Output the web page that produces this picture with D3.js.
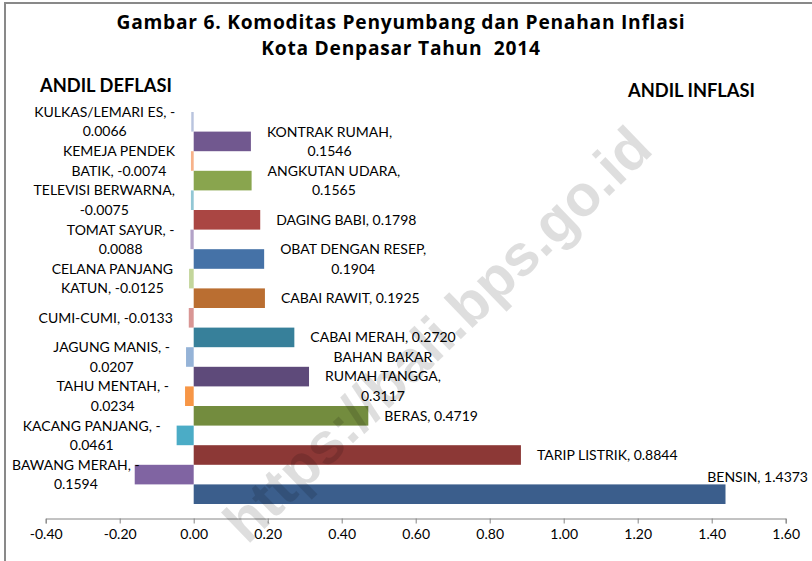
<!DOCTYPE html>
<html>
<head>
<meta charset="utf-8">
<script src="https://cdn.jsdelivr.net/npm/d3@7"></script>
<style>
  body { margin: 0; background: #fff; }
  svg { display: block; }
</style>
</head>
<body>
<div id="chart"></div>
<script>
// data
const deflNames = ["KULKAS/LEMARI ES", "KEMEJA PENDEK BATIK", "TELEVISI BERWARNA", "TOMAT SAYUR",
	"CELANA PANJANG KATUN", "CUMI-CUMI", "JAGUNG MANIS", "TAHU MENTAH", "KACANG PANJANG", "BAWANG MERAH"];
const deflValues = [-0.0066, -0.0074, -0.0075, -0.0088, -0.0125, -0.0133, -0.0207, -0.0234, -0.0461, -0.1594];
const deflColors = ["#b9c4de", "#f7b28a", "#92c7d5", "#b3a2c7", "#c3d69b", "#d99694", "#95b3d7", "#f79646", "#4bacc6", "#8064a2"];

const inflNames = ["KONTRAK RUMAH", "ANGKUTAN UDARA", "DAGING BABI", "OBAT DENGAN RESEP", "CABAI RAWIT",
	"CABAI MERAH", "BAHAN BAKAR RUMAH TANGGA", "BERAS", "TARIP LISTRIK", "BENSIN"];
const inflValues = [0.1546, 0.1565, 0.1798, 0.1904, 0.1925, 0.2720, 0.3117, 0.4719, 0.8844, 1.4373];
const inflColors = ["#71588f", "#89a54e", "#aa4643", "#4572a7", "#ba6e31", "#37809a", "#5e4a7a", "#738c3e", "#8c3836", "#3b5e8c"];

const xTicks = [-0.4, -0.2, 0, 0.2, 0.4, 0.6, 0.8, 1.0, 1.2, 1.4, 1.6];
const titleLines = ["Gambar 6. Komoditas Penyumbang dan Penahan Inflasi", "Kota Denpasar Tahun  2014"];

const width = 812, height = 561;
const labelFont = "Lato, 'Open Sans', sans-serif";
const labelSize = 14;
const deflWrap = 145, inflWrap = 150;

const svg = d3.select("#chart").append("svg")
	.attr("width", width)
	.attr("height", height);

// frame
svg.append("path")
	.attr("d", `M5,${height} V3 H${width}`)
	.attr("fill", "none")
	.attr("stroke", "#898989")
	.attr("stroke-width", 2);

// title
svg.append("g").selectAll("text")
	.data(titleLines)
	.join("text")
	.attr("x", 401)
	.attr("y", (d, i) => 28.5 + i * 26.3)
	.attr("text-anchor", "middle")
	.attr("font-family", "'Open Sans', sans-serif")
	.attr("font-weight", "bold")
	.attr("font-size", 19.2)
	.attr("letter-spacing", 0.75)
	.attr("fill", "#000")
	.style("white-space", "pre")
	.text(d => d);

svg.append("text")
	.attr("x", 40).attr("y", 92)
	.attr("font-family", labelFont).attr("font-weight", "bold").attr("font-size", 18.3)
	.text("ANDIL DEFLASI");

svg.append("text")
	.attr("x", 755).attr("y", 97)
	.attr("text-anchor", "end")
	.attr("font-family", labelFont).attr("font-weight", "bold").attr("font-size", 18.3)
	.text("ANDIL INFLASI");

// scales
const x = d3.scaleLinear().domain([-0.4, 1.6]).range([45.7, 785.7]);
const y = d3.scaleBand().domain(d3.range(deflNames.length)).range([97.5, 518.5]).paddingInner(0).paddingOuter(0.37);
const sub = d3.scaleBand().domain(["defl", "infl"]).range([0, y.bandwidth()]);

const plot = svg.append("g");

plot.append("g").selectAll("rect")
	.data(deflValues)
	.join("rect")
	.attr("x", d => x(d))
	.attr("y", (d, i) => y(i) + sub("defl"))
	.attr("width", d => x(0) - x(d))
	.attr("height", sub.bandwidth())
	.attr("fill", (d, i) => deflColors[i]);

plot.append("g").selectAll("rect")
	.data(inflValues)
	.join("rect")
	.attr("x", x(0))
	.attr("y", (d, i) => y(i) + sub("infl"))
	.attr("width", d => x(d) - x(0))
	.attr("height", sub.bandwidth())
	.attr("fill", (d, i) => inflColors[i]);

// axis
const fmt = d3.formatLocale({ decimal: ".", thousands: ",", grouping: [3], currency: ["", ""], minus: "-" }).format(".2f");
const axis = svg.append("g")
	.attr("transform", `translate(0,${y.range()[1]})`)
	.call(d3.axisBottom(x).tickValues(xTicks).tickFormat(fmt).tickSize(5).tickSizeOuter(5).tickPadding(6));
axis.selectAll("path, line").attr("stroke", "#868686");
axis.selectAll("text").attr("font-family", labelFont).attr("font-size", labelSize).attr("fill", "#000");

// data labels
const measurer = svg.append("text").attr("font-family", labelFont).attr("font-size", labelSize).attr("visibility", "hidden");
const measure = s => measurer.text(s).node().getComputedTextLength();

function wrap(str, limit) {
	const tokens = str.split(/(?<=[ -])/);
	const lines = [];
	let line = "";
	tokens.forEach(t => {
		const cand = line + t;
		if (line && measure(cand.trimEnd()) > limit) {
			lines.push(line.trimEnd());
			line = t;
		} else {
			line = cand;
		}
	});
	if (line) lines.push(line.trimEnd());
	return lines;
}

const lineH = 19.5;
const labels = svg.append("g")
	.attr("font-family", labelFont)
	.attr("font-size", labelSize)
	.attr("fill", "#000");

function drawLabel(lines, cx, cy) {
	labels.append("text")
		.attr("text-anchor", "middle")
		.selectAll("tspan")
		.data(lines)
		.join("tspan")
		.attr("x", cx)
		.attr("y", (d, i) => cy + (i - (lines.length - 1) / 2) * lineH)
		.attr("dy", "0.35em")
		.text(d => d);
}

deflValues.forEach((v, i) => {
	const lines = wrap(`${deflNames[i]}, ${v.toFixed(4)}`, deflWrap);
	const w = d3.max(lines, measure);
	let left = x(v) - 16 - w;
	if (left < 12) left = 12;
	drawLabel(lines, left + w / 2, y(i) + sub("defl") + sub.bandwidth() / 2);
});

inflValues.forEach((v, i) => {
	const lines = wrap(`${inflNames[i]}, ${v.toFixed(4)}`, inflWrap);
	const w = d3.max(lines, measure);
	let left = x(v) + 16;
	let cy = y(i) + sub("infl") + sub.bandwidth() / 2;
	if (left + w > width - 4) {
		// no room at the right: pushed back inside, above the bar
		left = width - 4 - w;
		cy = y(i) + sub("infl") - 7;
	}
	drawLabel(lines, left + w / 2, cy);
});

measurer.remove();

// watermark
svg.append("text")
	.attr("transform", "translate(437,334) rotate(-44)")
	.attr("text-anchor", "middle")
	.attr("dy", "0.35em")
	.attr("font-family", "'Liberation Sans', Arial, sans-serif")
	.attr("font-weight", "bold")
	.attr("font-size", 58)
	.attr("fill", "#000")
	.attr("fill-opacity", 0.13)
	.text("https://bali.bps.go.id");
</script>
</body>
</html>
